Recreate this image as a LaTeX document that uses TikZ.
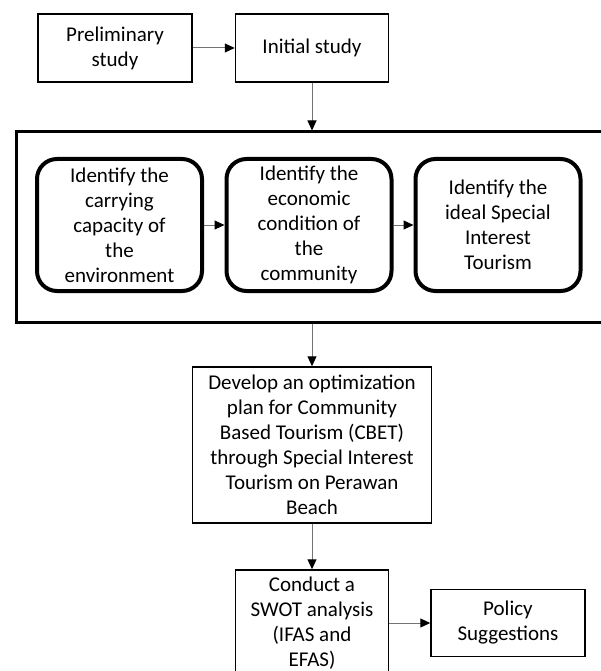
\documentclass[tikz,border=0pt]{standalone}
\usepackage{fontspec}
\setmainfont{Carlito}
\usetikzlibrary{arrows.meta}
\begin{document}
\begin{tikzpicture}[x=1pt,y=-1pt,
  every node/.style={font=\fontsize{21}{25}\selectfont, align=center, inner sep=0pt},
  plainbox/.style={draw=black, line width=1.5pt, rectangle},
  roundbox/.style={draw=black, line width=4pt, rounded corners=20pt, minimum width=165pt, minimum height=132pt},
  bigbox/.style={draw=black, line width=3pt},
  conn/.style={draw=black!55, line width=1pt, -{Triangle[length=10pt,width=9pt,black]}}]
\useasboundingbox (0,0) rectangle (601,671);
\clip (0,0) rectangle (601,671);
\node[plainbox, minimum width=154pt, minimum height=68pt] (pre) at (115,48) {Preliminary\\study};
\node[plainbox, minimum width=153pt, minimum height=68pt] (init) at (312,48) {Initial study};
\node[bigbox, minimum width=592pt, minimum height=190pt] (big) at (312,227) {};
\node[roundbox] (b1) at (119.5,225) {Identify the\\carrying\\capacity of\\the\\environment};
\node[roundbox] (b2) at (309,225) {Identify the\\economic\\condition of\\the\\community};
\node[roundbox] (b3) at (498,225) {Identify the\\ideal Special\\Interest\\Tourism};
\node[plainbox, minimum width=239pt, minimum height=156pt] (dev) at (312,445) {Develop an optimization\\plan for Community\\Based Tourism (CBET)\\through Special Interest\\Tourism on Perawan\\Beach};
\node[plainbox, minimum width=153pt, minimum height=106pt] (swot) at (312,623) {Conduct a\\SWOT analysis\\(IFAS and\\EFAS)};
\node[plainbox, minimum width=154pt, minimum height=67pt] (pol) at (508,623) {Policy\\Suggestions};
\draw[conn] (pre) -- (init);
\draw[conn] (init) -- (init |- big.north);
\draw[conn] (b1) -- (b2);
\draw[conn] (b2) -- (b3);
\draw[conn] (big.south -| dev.north) -- (dev.north);
\draw[conn] (dev) -- (swot);
\draw[conn] (swot) -- (pol);
\end{tikzpicture}
\end{document}
